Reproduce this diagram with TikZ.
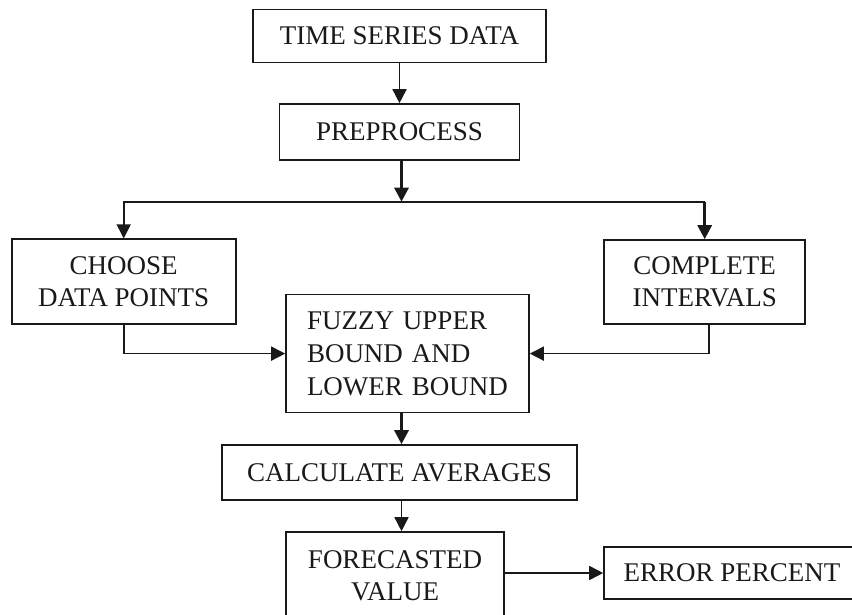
\documentclass[tikz,border=0pt]{standalone}
\usepackage{fontspec}
\setmainfont{Liberation Serif}
\usetikzlibrary{arrows.meta}
\begin{document}
\begin{tikzpicture}[x=1pt,y=-1pt,
  box/.style={draw=black!90, line width=1.6pt, rectangle, inner sep=0pt,
    font=\fontsize{27}{32}\selectfont, align=center, text=black!90},
  thin/.style={draw=black!90, line width=1.6pt},
  thick/.style={draw=black!90, line width=3pt},
  tip/.style={-{Triangle[length=14pt,width=14pt]}}]
\useasboundingbox (0,0) rectangle (852,614);
\node[box, minimum width=293pt, minimum height=53pt] (tsd) at (399.5,36) {TIME SERIES DATA};
\node[box, minimum width=240pt, minimum height=56pt] (pre) at (399.5,132) {PREPROCESS};
\node[box, minimum width=224pt, minimum height=85pt] (choose) at (123.7,281.7) {CHOOSE\\DATA POINTS};
\node[box, minimum width=201pt, minimum height=84pt] (complete) at (704.7,282) {COMPLETE\\INTERVALS};
\node[box, minimum width=243pt, minimum height=118pt, align=left, text width=201pt, inner xsep=21pt,
  font=\fontsize{27}{33}\selectfont] (fuzzy) at (407.5,353.6) {FUZZY UPPER\\BOUND AND\\LOWER BOUND};
\node[box, minimum width=355pt, minimum height=55pt] (calc) at (399.5,472.5) {CALCULATE AVERAGES};
\node[box, minimum width=218pt, minimum height=88pt] (fore) at (395,576) {FORECASTED\\VALUE};
\node[box, minimum width=256pt, minimum height=52pt] (err) at (732,573) {ERROR PERCENT};
\coordinate (split) at (401.5,201.7);
% connectors
\draw[thin, tip] (tsd.south) -- (pre.north);
\draw[thick, tip] (pre.south -| split) -- (split);
\draw[thin, tip] (split) -| (choose.north);
\draw[thin] (split) -- (split -| complete.north);
\draw[thick, tip] (split -| complete.north) -- (complete.north);
\draw[thin, tip] (choose.south) |- (fuzzy.west);
\draw[thin, tip] ([xshift=4pt]complete.south) |- (fuzzy.east);
\draw[thick, tip] (fuzzy.south -| split) -- (calc.north -| split);
\draw[thin, tip] (calc.south -| split) -- (fore.north -| split);
\draw[thin, tip] (fore.east |- err.west) -- (err.west);
\end{tikzpicture}
\end{document}
